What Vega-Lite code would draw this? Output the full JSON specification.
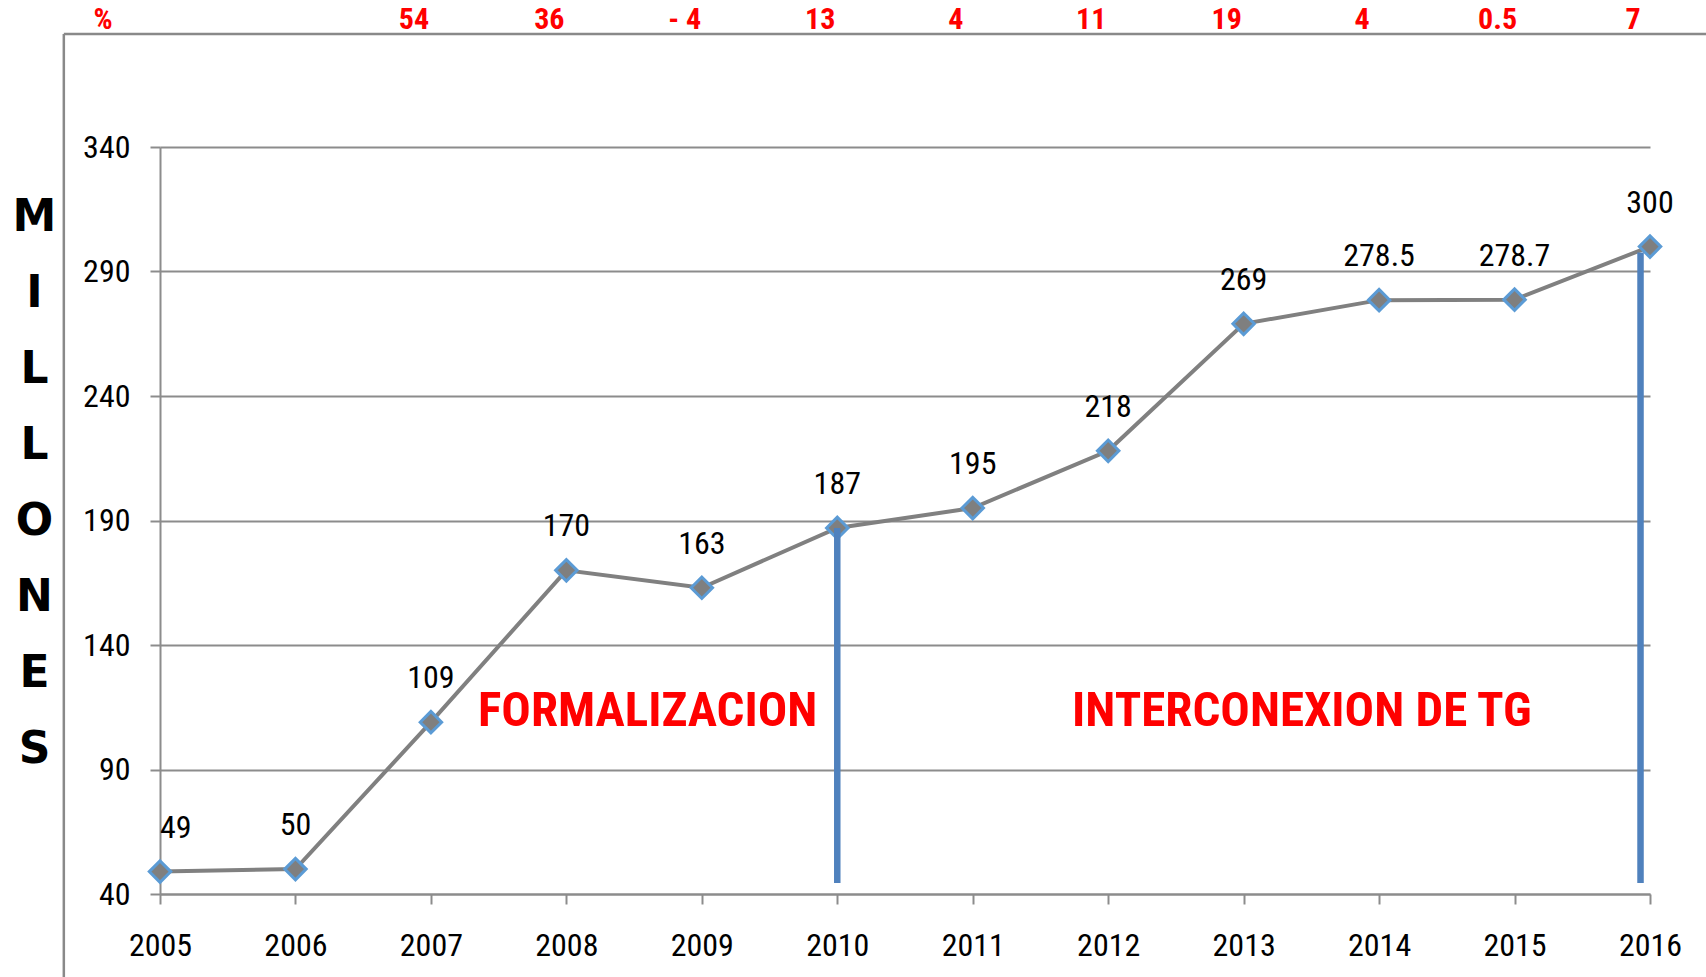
{
  "$schema": "https://vega.github.io/schema/vega-lite/v6.json",
  "autosize": "none",
  "width": 1490,
  "height": 747,
  "padding": {"left": 160, "top": 147, "right": 56, "bottom": 83},
  "background": "white",
  "config": {
    "font": "Liberation Sans Narrow, Arial Narrow, Roboto Condensed, sans-serif",
    "view": {"stroke": null}
  },
  "datasets": {
    "main": [
      {"year": 2005, "value": 49, "label": "49", "pct": ""},
      {"year": 2006, "value": 50, "label": "50", "pct": ""},
      {"year": 2007, "value": 109, "label": "109", "pct": "54"},
      {"year": 2008, "value": 170, "label": "170", "pct": "36"},
      {"year": 2009, "value": 163, "label": "163", "pct": "- 4"},
      {"year": 2010, "value": 187, "label": "187", "pct": "13"},
      {"year": 2011, "value": 195, "label": "195", "pct": "4"},
      {"year": 2012, "value": 218, "label": "218", "pct": "11"},
      {"year": 2013, "value": 269, "label": "269", "pct": "19"},
      {"year": 2014, "value": 278.5, "label": "278.5", "pct": "4"},
      {"year": 2015, "value": 278.7, "label": "278.7", "pct": "0.5"},
      {"year": 2016, "value": 300, "label": "300", "pct": "7"}
    ],
    "periods": [
      {"year": 2010, "top": 187, "bottom": 44.4},
      {"year": 2015.93, "top": 297.6, "bottom": 44.4}
    ],
    "notes": [
      {"text": "FORMALIZACION", "year": 2008.6, "value": 113.5},
      {"text": "INTERCONEXION DE TG", "year": 2013.43, "value": 113.5}
    ]
  },
  "layer": [
    {
      "data": {"values": [{}]},
      "mark": {"type": "rule", "color": "#898989", "strokeWidth": 2.5},
      "encoding": {
        "x": {"datum": 2004.29},
        "y": {"datum": 385.4},
        "y2": {"datum": 0}
      }
    },
    {
      "data": {"values": [{}]},
      "mark": {"type": "rule", "color": "#898989", "strokeWidth": 2.5},
      "encoding": {
        "x": {"datum": 2004.29},
        "x2": {"datum": 2017},
        "y": {"datum": 385.4}
      }
    },
    {
      "data": {"name": "main"},
      "mark": {"type": "line", "color": "#808080", "strokeWidth": 4},
      "encoding": {
        "x": {
          "field": "year", "type": "quantitative",
          "scale": {"domain": [2005, 2016], "nice": false, "zero": false},
          "axis": {
            "values": [2005, 2006, 2007, 2008, 2009, 2010, 2011, 2012, 2013, 2014, 2015, 2016],
            "format": "d", "title": null, "grid": false,
            "domainColor": "#8C8C8C", "domainWidth": 2,
            "tickColor": "#8C8C8C", "tickWidth": 2, "tickSize": 10,
            "labelFontSize": 32, "labelColor": "#000000", "labelPadding": 26,
            "labelBaseline": "top", "labelFlush": false, "labelOverlap": false
          }
        },
        "y": {
          "field": "value", "type": "quantitative",
          "scale": {"domain": [40, 340], "nice": false, "zero": false},
          "axis": {
            "values": [40, 90, 140, 190, 240, 290, 340],
            "grid": true, "gridColor": "#8C8C8C", "gridWidth": 2,
            "domainColor": "#8C8C8C", "domainWidth": 2,
            "tickColor": "#8C8C8C", "tickWidth": 2, "tickSize": 10,
            "labelFontSize": 32, "labelColor": "#000000", "labelPadding": 20,
            "labelFlush": false, "labelOverlap": false,
            "title": ["M", "I", "L", "L", "O", "N", "E", "S"],
            "titleAngle": 0, "titleFont": "DejaVu Sans", "titleFontSize": 44,
            "titleFontWeight": "bold", "titleColor": "#000000",
            "titleLineHeight": 76, "titleAlign": "center",
            "titleBaseline": "alphabetic", "titleX": -126, "titleY": 83
          }
        }
      }
    },
    {
      "data": {"name": "main"},
      "mark": {"type": "point", "shape": "diamond", "filled": true, "fill": "#7F7F7F", "stroke": "#5B9BD5", "strokeWidth": 3, "size": 460, "opacity": 1},
      "encoding": {
        "x": {"field": "year", "type": "quantitative"},
        "y": {"field": "value", "type": "quantitative"}
      }
    },
    {
      "data": {"name": "periods"},
      "mark": {"type": "rule", "color": "#4F81BD", "strokeWidth": 6.5},
      "encoding": {
        "x": {"field": "year", "type": "quantitative"},
        "y": {"field": "top", "type": "quantitative"},
        "y2": {"field": "bottom"}
      }
    },
    {
      "data": {"name": "main"},
      "transform": [{"filter": "datum.year == 2005"}],
      "mark": {"type": "text", "align": "left", "baseline": "alphabetic", "dy": -34, "dx": 0, "fontSize": 32, "color": "#000000"},
      "encoding": {
        "x": {"field": "year", "type": "quantitative"},
        "y": {"field": "value", "type": "quantitative"},
        "text": {"field": "label"}
      }
    },
    {
      "data": {"name": "main"},
      "transform": [{"filter": "datum.year > 2005"}],
      "mark": {"type": "text", "align": "center", "baseline": "alphabetic", "dy": -34, "fontSize": 32, "color": "#000000"},
      "encoding": {
        "x": {"field": "year", "type": "quantitative"},
        "y": {"field": "value", "type": "quantitative"},
        "text": {"field": "label"}
      }
    },
    {
      "data": {"name": "main"},
      "mark": {"type": "text", "align": "center", "baseline": "middle", "dx": -17, "fontSize": 30, "fontWeight": "bold", "color": "#FF0000"},
      "encoding": {
        "x": {"field": "year", "type": "quantitative"},
        "y": {"datum": 391.2},
        "text": {"field": "pct"}
      }
    },
    {
      "data": {"values": [{}]},
      "mark": {"type": "text", "align": "center", "baseline": "middle", "dx": -57, "fontSize": 30, "fontWeight": "bold", "color": "#FF0000"},
      "encoding": {
        "x": {"datum": 2005},
        "y": {"datum": 391.2},
        "text": {"value": "%"}
      }
    },
    {
      "data": {"name": "notes"},
      "mark": {"type": "text", "align": "center", "baseline": "middle", "fontSize": 49, "fontWeight": "bold", "color": "#FF0000"},
      "encoding": {
        "x": {"field": "year", "type": "quantitative"},
        "y": {"field": "value", "type": "quantitative"},
        "text": {"field": "text"}
      }
    }
  ]
}
